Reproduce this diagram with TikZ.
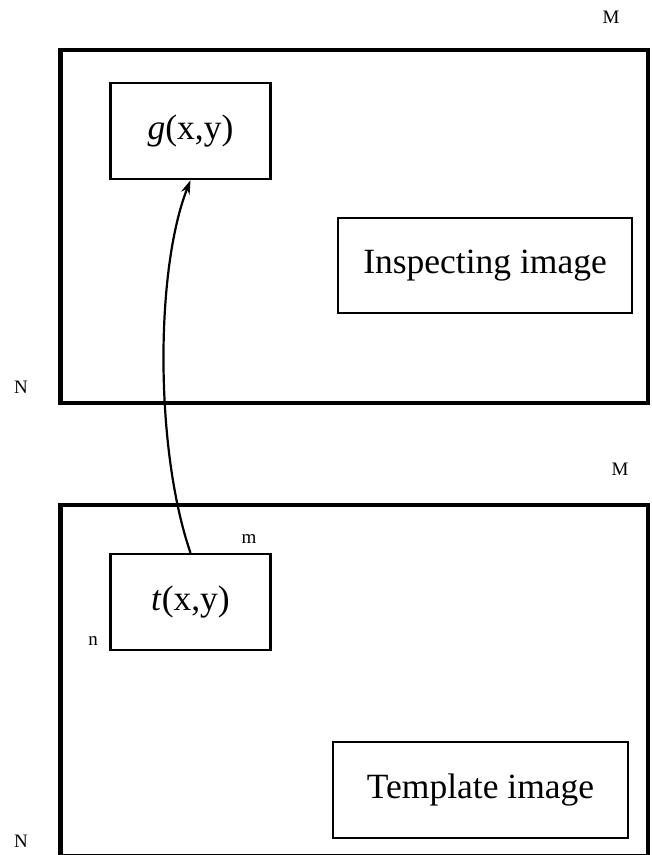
\documentclass[tikz,border=0pt]{standalone}
\usepackage{fontspec}
\setmainfont{Liberation Serif}
\usetikzlibrary{arrows.meta}
\begin{document}
\begin{tikzpicture}[x=1pt,y=-1pt,
  frame/.style={draw, line width=4.4pt, rectangle, inner sep=0pt},
  patch/.style={draw, line width=2.3pt, rectangle, inner sep=0pt,
    minimum width=160pt, minimum height=96pt,
    font=\fontsize{35.5}{40}\selectfont},
  dim/.style={inner sep=0pt, anchor=base, font=\fontsize{19}{22}\selectfont},
  link/.style={line width=2.2pt, -{Stealth[length=14pt,width=9pt]}}]
\useasboundingbox (0,0) rectangle (652,855);

% inspecting image frame and its contents
\node[frame, minimum width=587.5pt, minimum height=353pt] (insp) at (354.25,226.5) {};
\node[patch] (g) at (190.5,131) {\textit{g}(x,y)};
\node[patch, minimum width=294pt, minimum height=95pt] (inspl) at (485,265.5) {Inspecting image};
\node[dim] (M1) at (611,23) {M};
\node[dim] (N1) at (21,393) {N};

% template image frame and its contents
\node[frame, minimum width=587.5pt, minimum height=351.5pt] (tmpl) at (354.25,680.75) {};
\node[patch] (t) at (190.5,602) {\textit{t}(x,y)};
\node[patch, minimum width=295pt, minimum height=96pt] (tmpll) at (480.5,790) {Template image};
\node[dim] (M2) at (620,475) {M};
\node[dim] (N2) at (21,847) {N};
\node[dim] (m) at (249,543) {m};
\node[dim] (n) at (93,645) {n};

% template slid over the inspecting image
\draw[link] (t.north) .. controls (155,450) and (155,270) .. (g.south);
\end{tikzpicture}
\end{document}
